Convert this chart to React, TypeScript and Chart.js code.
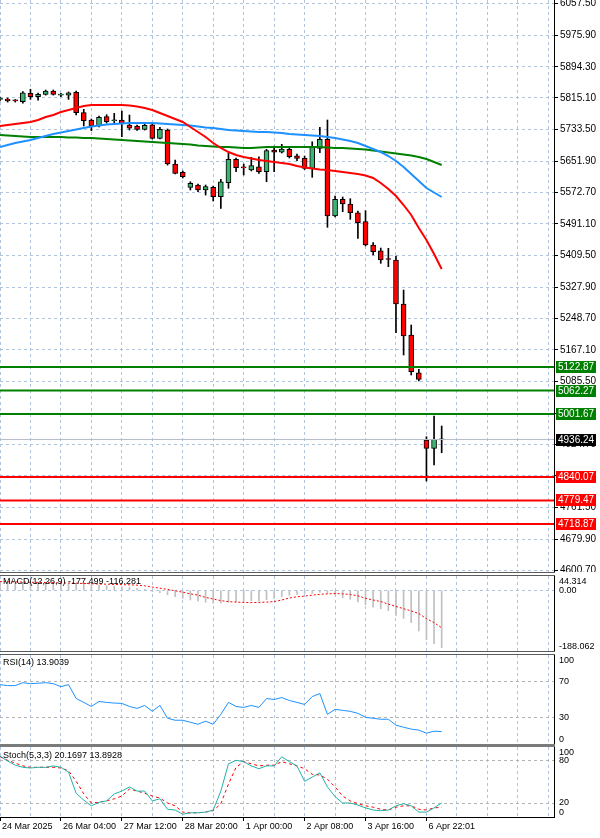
import React, { useEffect, useRef } from 'react';
import { Chart, registerables } from 'chart.js';

Chart.register(...registerables);

const FONT = "'Liberation Sans', Arial, sans-serif";
const GRID_COLOR = '#b0c4de';
const LEVEL_COLOR = '#b4b4b4';
const BULL = '#3cb371';
const BEAR = '#ff0000';
const X_MAX = 72.75;

// ---- time axis ----
const timeLabels = ['24 Mar 2025', '26 Mar 04:00', '27 Mar 12:00', '28 Mar 20:00', '1 Apr 00:00', '2 Apr 08:00', '3 Apr 16:00', '6 Apr 22:01'];
const timeLabelBars = [0, 8, 16, 24, 32, 40, 48, 56];

// ---- candles (H4) ----
const open = [5811, 5812, 5807.5, 5805, 5826.5, 5818, 5824, 5832.5, 5822, 5822,
  5829, 5776.7, 5758, 5743, 5766.4, 5756, 5758, 5745, 5742.5, 5734,
  5745.8, 5710.8, 5732, 5644.7, 5623.4, 5584.8, 5590.8, 5578, 5584.8, 5560.7,
  5596.7, 5656.8, 5635.3, 5629.3, 5637.8, 5625, 5680.8, 5674.9, 5682.6, 5666,
  5659.4, 5633.7, 5685.1, 5708.3, 5511, 5554, 5541.9, 5519.5, 5496.4, 5436.4,
  5421.8, 5399.7, 5397.9, 5284.7, 5205, 5108, 4935, 4913.7, 4935.5];
const high = [5816, 5814.5, 5810.5, 5831, 5837, 5827, 5835, 5835, 5826.5, 5830,
  5832, 5785.4, 5760.5, 5768, 5771.5, 5775, 5781, 5770.7, 5745, 5747.6,
  5747.6, 5739, 5734.8, 5655, 5626.8, 5599, 5593.3, 5590.8, 5588, 5605.4,
  5672.3, 5660, 5644.7, 5662, 5663.5, 5682.6, 5691, 5695.4, 5686, 5670.5,
  5665.3, 5702, 5739, 5757.9, 5562.5, 5559.9, 5555.5, 5523.9, 5524.7, 5442.4,
  5428.7, 5428, 5408.2, 5320.7, 5230.7, 5116.8, 4943.5, 4996.7, 4971];
const low = [5807, 5804, 5804, 5801, 5811, 5809, 5822, 5822, 5818, 5811,
  5770.7, 5742.5, 5730.4, 5740, 5750, 5749.4, 5715, 5732, 5731, 5732,
  5709, 5709, 5642, 5619, 5608.8, 5578, 5573.5, 5565, 5549.6, 5530.8,
  5582.3, 5625, 5616.5, 5626.8, 5620.8, 5599.2, 5625, 5673, 5660.2, 5653.2,
  5630.6, 5610.5, 5673.8, 5482, 5508.5, 5522.1, 5502.5, 5453.7, 5433.9, 5410.8,
  5389.4, 5380.7, 5210.9, 5153.6, 5102.2, 5086.7, 4829.5, 4870.7, 4902.3];
const close = [5811.5, 5807, 5807, 5828, 5818, 5824, 5832.5, 5824, 5822.5, 5828,
  5776.7, 5756, 5742.5, 5764.8, 5753.5, 5756.5, 5749.4, 5736.6, 5734, 5744.3,
  5710.8, 5734, 5644.7, 5620.8, 5612, 5595, 5578, 5586.4, 5560.7, 5599,
  5656.8, 5635.3, 5635, 5640.4, 5625, 5679, 5674.9, 5683.3, 5663.5, 5659.4,
  5633.7, 5687.7, 5708.3, 5511, 5554, 5541.9, 5519.5, 5493.8, 5436.4, 5419.2,
  5397.9, 5399.2, 5284.7, 5202.4, 5110.6, 5091, 4913.7, 4936.8, 4936.24];

// ---- moving averages ----
const maRed = [5742.5, 5745.0, 5747.6, 5750.2, 5752.8, 5757.9, 5765.6, 5770.7, 5778.5, 5783.6,
  5788.8, 5793.9, 5796.5, 5796.5, 5796.5, 5796.5, 5796.5, 5795.2, 5792.6, 5788.8,
  5783.6, 5775.9, 5768.2, 5760.5, 5752.8, 5739.9, 5727.0, 5714.2, 5698.8, 5685.9,
  5675.6, 5667.9, 5662.8, 5658.9, 5655.0, 5652.5, 5649.9, 5647.3, 5644.8, 5639.6,
  5635.8, 5633.2, 5630.6, 5629.3, 5626.8, 5624.2, 5621.6, 5619.0, 5615.2, 5608.8,
  5595.9, 5580.5, 5562.5, 5539.3, 5513.6, 5480.2, 5449.3, 5413.3, 5374.8];
const maBlue = [5688.5, 5693.6, 5698.8, 5702.6, 5706.5, 5711.6, 5716.8, 5721.9, 5725.8, 5729.6,
  5733.5, 5737.3, 5741.2, 5743.8, 5746.3, 5747.6, 5748.9, 5750.2, 5750.2, 5750.2,
  5750.2, 5748.9, 5747.6, 5746.3, 5745.0, 5743.8, 5741.2, 5738.6, 5737.3, 5734.8,
  5732.2, 5730.9, 5729.6, 5728.3, 5727.0, 5727.0, 5725.8, 5724.5, 5721.9, 5720.6,
  5719.3, 5718.0, 5716.8, 5714.2, 5711.6, 5707.8, 5703.9, 5698.8, 5691.0, 5683.3,
  5675.6, 5665.3, 5652.5, 5637.0, 5619.0, 5601.0, 5583.0, 5571.5, 5559.9];
const maGreen = [5719.3, 5718.0, 5716.8, 5715.5, 5714.2, 5714.2, 5714.2, 5714.2, 5714.2, 5712.9,
  5712.9, 5711.6, 5711.6, 5710.3, 5709.0, 5707.8, 5706.5, 5705.2, 5703.9, 5702.6,
  5701.3, 5700.0, 5698.8, 5697.5, 5696.2, 5694.9, 5692.3, 5691.0, 5689.8, 5688.5,
  5688.5, 5687.2, 5685.9, 5685.9, 5687.2, 5688.5, 5688.5, 5688.5, 5688.5, 5688.5,
  5688.5, 5688.5, 5688.5, 5687.2, 5685.9, 5685.9, 5684.6, 5683.3, 5682.1, 5679.5,
  5676.9, 5674.3, 5671.8, 5669.2, 5666.6, 5662.8, 5657.6, 5649.9, 5642.2];

// ---- price axis / levels ----
const priceTicks = [6057.5, 5975.9, 5894.3, 5815.1, 5733.5, 5651.9, 5572.7, 5491.1, 5409.5, 5327.9,
  5248.7, 5167.1, 5085.5, 5003.9, 4924.7, 4843.1, 4761.5, 4679.9, 4600.7];
const priceMin = 4595.6;
const priceMax = 6066.5;
const resistanceLevels = [5122.87, 5062.27, 5001.67];
const supportLevels = [4840.07, 4779.47, 4718.87];
const lastPrice = 4936.24;

// ---- MACD(12,26,9) ----
const macdMain = [24, 24, 23, 23, 23, 23, 23, 23, 22, 22,
  21, 19, 17, 16, 15, 13, 11, 9, 6, 3,
  -4, -7, -14, -20, -25, -30, -34, -37, -40, -40,
  -37, -35, -34, -33, -33, -29, -25, -20, -16, -13,
  -9.5, -9.5, -6, -9.5, -13, -23, -28, -36, -44.5, -52,
  -57, -63, -78, -87, -100, -126, -153, -165, -177.499];
const macdSignal = [27, 26.5, 26, 25.5, 25, 24.5, 24, 23.5, 23, 22.5,
  22, 21, 20.5, 19.5, 19, 18, 17.5, 17, 16, 14,
  10, 6.5, 3, -1.5, -6, -11, -15, -22, -27, -32,
  -35, -36.5, -37.5, -38, -37.5, -36.5, -35, -30, -24, -20,
  -18, -15, -12.5, -11, -10, -11, -13, -17, -25, -30,
  -35, -43, -50, -57, -64, -72, -88, -100, -116.281];
const macdTicks = [44.314, 0, -188.062];

// ---- RSI(14) ----
const rsi = [66.7, 65.6, 65.6, 68.9, 67.8, 68.3, 68.9, 67.8, 64.4, 66.7,
  51.1, 46.7, 42.2, 47.8, 46.7, 46.0, 45.6, 42.2, 40.0, 43.3,
  36.7, 43.3, 28.9, 26.7, 26.7, 24.4, 22.2, 25.6, 22.2, 33.3,
  46.7, 42.2, 41.1, 43.3, 41.1, 51.1, 50.0, 52.2, 48.9, 46.7,
  44.4, 53.3, 56.7, 33.3, 38.9, 37.8, 36.7, 34.4, 30.0, 28.9,
  27.8, 27.8, 21.1, 18.9, 16.7, 15.6, 12.2, 14.4, 13.9039];
const rsiTicks = [100, 70, 30, 0];

// ---- Stochastic(5,3,3) ----
const stochMain = [87, 80, 74, 71, 70, 71, 71, 73, 71, 64,
  34, 24, 16, 21, 23, 33, 37, 43, 37, 37,
  23, 26, 11, 10, 4, 6, 6, 7, 10, 37,
  76, 81, 79, 73, 69, 73, 73, 86, 79, 73,
  51, 57, 63, 43, 29, 20, 20, 17, 13, 10,
  9, 10, 16, 19, 16, 7, 7, 13, 20.1697];
const stochSignal = [86, 81, 77, 73, 71, 71, 71, 71, 70, 66,
  51, 33, 20, 21, 23, 26, 30, 40, 37, 34,
  30, 27, 20, 16, 7, 6, 6, 7, 9, 19,
  47, 71, 79, 76, 73, 74, 74, 79, 76, 73,
  69, 61, 60, 54, 43, 30, 23, 19, 16, 14,
  11, 10, 14, 16, 16, 11, 10, 13, 13.8928];
const stochTicks = [100, 80, 20, 0];

const bars = open.map((_, i) => i);
const gridBars = Array.from({ length: 19 }, (_, i) => i * 4);

const series = (vals: number[]) => vals.map((v, k) => ({ x: k, y: v }));
const hLine = (v: number) => [{ x: 0, y: v }, { x: X_MAX, y: v }];

const common: any = {
  responsive: false,
  animation: false,
  events: [],
  layout: { padding: 0 },
  plugins: { legend: { display: false }, tooltip: { enabled: false } },
};

function xAxis(withLabels: boolean): any {
  return {
    type: 'linear',
    min: 0,
    max: X_MAX,
    offset: false,
    afterBuildTicks: (s: any) => { s.ticks = gridBars.map((v) => ({ value: v })); },
    afterFit: (s: any) => { s.height = withLabels ? 21 : 0; s.paddingLeft = 0; s.paddingRight = 0; },
    ticks: {
      display: withLabels,
      autoSkip: false,
      maxRotation: 0,
      minRotation: 0,
      align: 'start',
      labelOffset: 2,
      padding: 0,
      color: '#000',
      font: { family: FONT, size: 9 },
      callback: (v: any) => {
        const i = timeLabelBars.indexOf(Number(v));
        return i >= 0 ? timeLabels[i] : '';
      },
    },
    grid: {
      display: true,
      offset: false,
      color: GRID_COLOR,
      lineWidth: 1,
      drawTicks: withLabels,
      tickLength: 4,
      tickWidth: 1,
      tickColor: (c: any) => (c.tick && timeLabelBars.includes(c.tick.value) ? '#000' : 'rgba(0,0,0,0)'),
    },
    border: { display: withLabels, color: '#000', width: 1, dash: [3, 3] },
  };
}

function indicatorY(min: number, max: number, ticks: number[], levels: number[], levelColor: string): any {
  return {
    position: 'right',
    min,
    max,
    afterBuildTicks: (s: any) => { s.ticks = ticks.map((v) => ({ value: v })); },
    afterFit: (s: any) => { s.width = 46; s.paddingTop = 0; s.paddingBottom = 0; },
    ticks: { display: false },
    grid: {
      color: (c: any) => (c.tick && levels.includes(c.tick.value) ? levelColor : 'rgba(0,0,0,0)'),
      drawTicks: false,
    },
    border: { display: true, color: '#000', width: 1, dash: [3, 3] },
  };
}

function sideLabels(id: string, title: string, titleY: number, items: [number, string, CanvasTextBaseline][]): any {
  return {
    id,
    afterDraw(chart: any) {
      const { ctx, chartArea } = chart;
      const ys = chart.scales.y;
      ctx.save();
      ctx.font = `9px ${FONT}`;
      ctx.fillStyle = '#000';
      ctx.textAlign = 'left';
      for (const [v, text, base] of items) {
        let py = ys.getPixelForValue(v);
        if (base === 'top') py += 1;
        ctx.textBaseline = base;
        ctx.fillText(text, chartArea.right + 5, py);
      }
      ctx.textBaseline = 'middle';
      ctx.fillText(title, 3, titleY);
      ctx.restore();
    },
  };
}

const levelLabels: any = {
  id: 'levelLabels',
  afterDraw(chart: any) {
    const { ctx, chartArea } = chart;
    const ys = chart.scales.y;
    const x0 = chartArea.right + 2;
    const draw = (v: number, bg: string) => {
      const py = Math.round(ys.getPixelForValue(v));
      ctx.fillStyle = bg;
      ctx.fillRect(x0, py - 6, 40, 12);
      ctx.fillStyle = '#fff';
      ctx.font = `10px ${FONT}`;
      ctx.textAlign = 'left';
      ctx.textBaseline = 'middle';
      ctx.fillText(v.toFixed(2), x0 + 2, py + 0.5);
    };
    ctx.save();
    resistanceLevels.forEach((v) => draw(v, '#008000'));
    supportLevels.forEach((v) => draw(v, '#ff0000'));
    draw(lastPrice, '#000');
    ctx.restore();
  },
};

function mainConfig(): any {
  return {
    type: 'bar',
    data: {
      datasets: [
        ...resistanceLevels.map((v) => ({ type: 'line', data: hLine(v), borderColor: '#008000', borderWidth: 2, pointRadius: 0, order: 0 })),
        ...supportLevels.map((v) => ({ type: 'line', data: hLine(v), borderColor: '#ff0000', borderWidth: 2, pointRadius: 0, order: 0 })),
        { type: 'line', data: hLine(lastPrice), borderColor: '#b4bcc8', borderWidth: 1, pointRadius: 0, order: 1 },
        { type: 'line', data: series(maRed), borderColor: '#ff0000', borderWidth: 2, pointRadius: 0, order: 2 },
        { type: 'line', data: series(maBlue), borderColor: '#1e90ff', borderWidth: 2, pointRadius: 0, order: 2 },
        { type: 'line', data: series(maGreen), borderColor: '#008000', borderWidth: 2, pointRadius: 0, order: 2 },
        {
          type: 'bar',
          data: bars.map((k) => ({ x: k, y: [open[k], close[k]] })),
          backgroundColor: bars.map((k) => (close[k] >= open[k] ? BULL : BEAR)),
          borderColor: '#000',
          borderWidth: 1,
          borderSkipped: false,
          barThickness: 5,
          minBarLength: 1,
          grouped: false,
          order: 3,
        },
        {
          type: 'bar',
          data: bars.map((k) => ({ x: k, y: [low[k], high[k]] })),
          backgroundColor: '#000',
          borderWidth: 0,
          barThickness: 1,
          grouped: false,
          order: 4,
        },
      ],
    },
    options: {
      ...common,
      scales: {
        x: xAxis(false),
        y: {
          position: 'right',
          min: priceMin,
          max: priceMax,
          afterBuildTicks: (s: any) => { s.ticks = priceTicks.map((v) => ({ value: v })); },
          afterFit: (s: any) => { s.width = 46; s.paddingTop = 0; s.paddingBottom = 0; },
          ticks: {
            autoSkip: false,
            color: '#000',
            padding: 2,
            font: { family: FONT, size: 10 },
            callback: (v: any) => Number(v).toFixed(2),
          },
          grid: { color: GRID_COLOR, lineWidth: 1, drawTicks: true, tickLength: 4, tickColor: '#000', tickWidth: 1 },
          border: { display: true, color: '#000', width: 1, dash: [3, 3] },
        },
      },
    },
    plugins: [levelLabels],
  };
}

function macdConfig(): any {
  return {
    type: 'bar',
    data: {
      datasets: [
        { type: 'line', data: series(macdSignal), borderColor: '#ff0000', borderWidth: 1, borderDash: [2, 2], pointRadius: 0, order: 0 },
        { type: 'bar', data: series(macdMain), backgroundColor: '#c0c0c0', borderWidth: 0, barThickness: 1, grouped: false, order: 1 },
      ],
    },
    options: {
      ...common,
      scales: { x: xAxis(false), y: indicatorY(macdTicks[2], macdTicks[0], macdTicks, [0], GRID_COLOR) },
    },
    plugins: [sideLabels('macdLabels', 'MACD(12,26,9) -177.499 -116.281', 6, [
      [macdTicks[0], '44.314', 'top'],
      [macdTicks[1], '0.00', 'middle'],
      [macdTicks[2], '-188.062', 'bottom'],
    ])],
  };
}

function rsiConfig(): any {
  return {
    type: 'line',
    data: {
      datasets: [
        { data: series(rsi), borderColor: '#1e90ff', borderWidth: 1, pointRadius: 0 },
      ],
    },
    options: {
      ...common,
      scales: { x: xAxis(false), y: indicatorY(0, 100, rsiTicks, [70, 30], LEVEL_COLOR) },
    },
    plugins: [sideLabels('rsiLabels', 'RSI(14) 13.9039', 8, [
      [100, '100', 'top'],
      [70, '70', 'middle'],
      [30, '30', 'middle'],
      [0, '0', 'bottom'],
    ])],
  };
}

function stochConfig(): any {
  return {
    type: 'line',
    data: {
      datasets: [
        { data: series(stochSignal), borderColor: '#ff0000', borderWidth: 1, borderDash: [3, 3], pointRadius: 0, order: 1 },
        { data: series(stochMain), borderColor: '#20b2aa', borderWidth: 1, pointRadius: 0, order: 0 },
      ],
    },
    options: {
      ...common,
      scales: { x: xAxis(true), y: indicatorY(0, 100, stochTicks, [80, 20], LEVEL_COLOR) },
    },
    plugins: [sideLabels('stochLabels', 'Stoch(5,3,3) 20.1697 13.8928', 9, [
      [100, '100', 'top'],
      [80, '80', 'middle'],
      [20, '20', 'middle'],
      [0, '0', 'bottom'],
    ])],
  };
}

const panels = [
  { key: 'main', top: 0, height: 572, make: mainConfig },
  { key: 'macd', top: 576, height: 75, make: macdConfig },
  { key: 'rsi', top: 655, height: 89, make: rsiConfig },
  { key: 'stoch', top: 747, height: 91, make: stochConfig },
];

const separators = [
  { top: 572, height: 1, color: '#5a5a5a' },
  { top: 575, height: 1, color: '#5a5a5a' },
  { top: 651, height: 1, color: '#5a5a5a' },
  { top: 654, height: 1, color: '#5a5a5a' },
  { top: 744, height: 3, color: '#7a7a7a' },
];

export default function App() {
  const refs = useRef<(HTMLCanvasElement | null)[]>([]);

  useEffect(() => {
    Chart.defaults.font.family = FONT;
    const charts = panels.map((p, i) => new Chart(refs.current[i] as HTMLCanvasElement, p.make()));
    return () => charts.forEach((c) => c.destroy());
  }, []);

  return (
    <div style={{ position: 'fixed', left: 0, top: 0, width: 600, height: 838, background: '#fff', overflow: 'hidden' }}>
      {panels.map((p, i) => (
        <canvas
          key={p.key}
          ref={(el) => { refs.current[i] = el; }}
          width={600}
          height={p.height}
          style={{ position: 'absolute', left: 0, top: p.top, width: 600, height: p.height, display: 'block' }}
        />
      ))}
      {separators.map((s, i) => (
        <div key={i} style={{ position: 'absolute', left: 0, top: s.top, width: 555, height: s.height, background: s.color, zIndex: 2 }} />
      ))}
    </div>
  );
}
